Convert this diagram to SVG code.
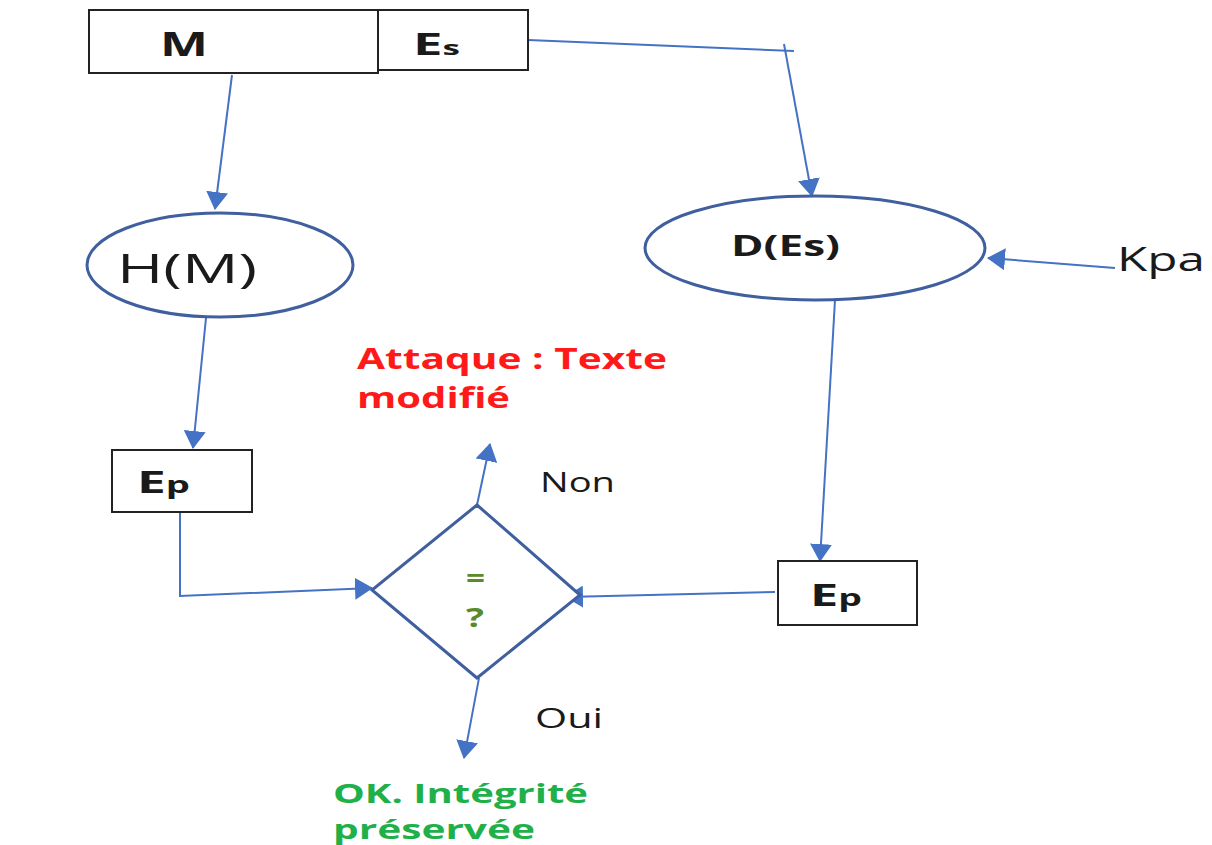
<svg xmlns="http://www.w3.org/2000/svg" width="1212" height="845" viewBox="0 0 1212 845">
  <style>
    .box { fill: #fff; stroke: #222; stroke-width: 2; }
    .shape { fill: #fff; stroke: #3f5f9e; stroke-width: 3; }
    .link { fill: none; stroke: #4472c4; stroke-width: 2; }
    .t { font-family: "Open Sans", "Liberation Sans", sans-serif; fill: #1a1a1a; }
    .b { font-weight: bold; }
    .red { fill: #ff1a1a; }
    .green { fill: #1fb04a; }
    .olive { fill: #5a8a2a; }
  </style>
  <defs>
    <marker id="arrow" viewBox="0 0 18 22" refX="17" refY="11" markerWidth="9" markerHeight="11" orient="auto" markerUnits="strokeWidth">
      <path d="M0,0 L18,11 L0,22 z" fill="#4472c4"/>
    </marker>
  </defs>
  <rect width="1212" height="845" fill="#fff"/>

  <g id="connectors">
    <line class="link" x1="232" y1="75" x2="215" y2="209" marker-end="url(#arrow)"/>
    <line class="link" x1="528" y1="40" x2="794" y2="51"/>
    <line class="link" x1="784" y1="44" x2="812" y2="196" marker-end="url(#arrow)"/>
    <line class="link" x1="1115" y1="268" x2="988" y2="258" marker-end="url(#arrow)"/>
    <line class="link" x1="206" y1="318" x2="193" y2="448" marker-end="url(#arrow)"/>
    <line class="link" x1="835" y1="300" x2="820" y2="561" marker-end="url(#arrow)"/>
    <polyline class="link" points="180,512 180,596 372,588" marker-end="url(#arrow)"/>
    <line class="link" x1="775" y1="592" x2="566" y2="597" marker-end="url(#arrow)"/>
    <line class="link" x1="477" y1="505" x2="490" y2="444" marker-end="url(#arrow)"/>
    <line class="link" x1="479" y1="678" x2="464" y2="758" marker-end="url(#arrow)"/>
  </g>

  <g id="node-m">
    <rect class="box" x="89" y="10" width="289" height="63"/>
    <text class="t b" x="160" y="56" font-size="34" textLength="48" lengthAdjust="spacingAndGlyphs">M</text>
  </g>
  <g id="node-es">
    <rect class="box" x="378" y="10" width="150" height="60"/>
    <text class="t b" x="413" y="55" font-size="30" textLength="47" lengthAdjust="spacingAndGlyphs">E<tspan font-size="20">s</tspan></text>
  </g>
  <g id="node-hm">
    <ellipse class="shape" cx="220" cy="265" rx="133" ry="52"/>
    <text class="t" x="117" y="283" font-size="41" textLength="140" lengthAdjust="spacingAndGlyphs">H(M)</text>
  </g>
  <g id="node-des">
    <ellipse class="shape" cx="815" cy="248" rx="170" ry="52"/>
    <text class="t b" x="731" y="256" font-size="28" textLength="109" lengthAdjust="spacingAndGlyphs">D(Es)</text>
  </g>
  <g id="node-kpa">
    <text class="t" x="1117" y="271" font-size="33" textLength="88" lengthAdjust="spacingAndGlyphs">Kpa</text>
  </g>
  <g id="node-ep-left">
    <rect class="box" x="112" y="450" width="140" height="62"/>
    <text class="t b" x="137" y="493" font-size="31" textLength="53" lengthAdjust="spacingAndGlyphs">E<tspan font-size="23">p</tspan></text>
  </g>
  <g id="node-ep-right">
    <rect class="box" x="778" y="561" width="139" height="64"/>
    <text class="t b" x="810" y="606" font-size="31" textLength="52" lengthAdjust="spacingAndGlyphs">E<tspan font-size="23">p</tspan></text>
  </g>
  <g id="node-compare">
    <polygon class="shape" points="477,505 580,595 477,678 372,590"/>
    <text class="t b olive" x="466" y="588" font-size="26" textLength="19" lengthAdjust="spacingAndGlyphs">=</text>
    <text class="t b olive" x="466" y="627" font-size="26" textLength="18" lengthAdjust="spacingAndGlyphs">?</text>
  </g>
  <g id="node-non">
    <text class="t" x="540" y="492" font-size="27" textLength="75" lengthAdjust="spacingAndGlyphs">Non</text>
  </g>
  <g id="node-oui">
    <text class="t" x="535" y="728" font-size="27" textLength="68" lengthAdjust="spacingAndGlyphs">Oui</text>
  </g>
  <g id="node-attack">
    <text class="t b red" x="357" y="369" font-size="29" textLength="310" lengthAdjust="spacingAndGlyphs">Attaque : Texte</text>
    <text class="t b red" x="357" y="408" font-size="29" textLength="153" lengthAdjust="spacingAndGlyphs">modifié</text>
  </g>
  <g id="node-ok">
    <text class="t b green" x="333" y="803" font-size="27" textLength="255" lengthAdjust="spacingAndGlyphs">OK. Intégrité</text>
    <text class="t b green" x="333" y="839" font-size="27" textLength="202" lengthAdjust="spacingAndGlyphs">préservée</text>
  </g>
</svg>
